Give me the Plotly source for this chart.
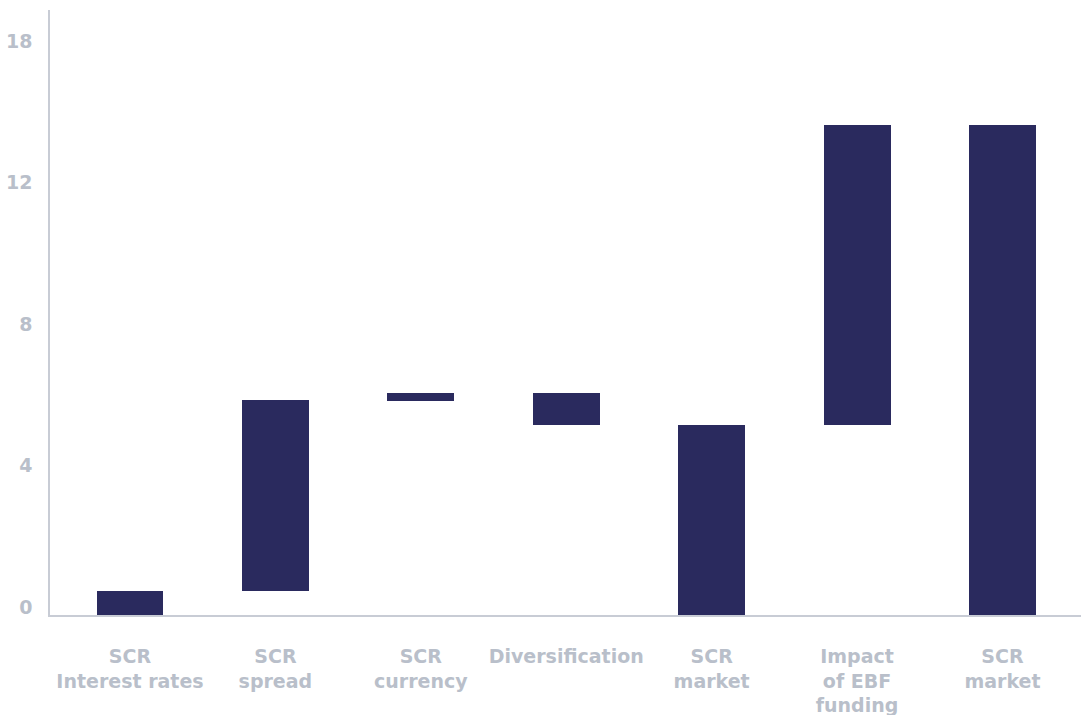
import plotly.graph_objects as go

categories = ["SCR<br>Interest rates", "SCR<br>spread", "SCR<br>currency", "Diversification",
              "SCR<br>market", "Impact<br>of EBF<br>funding", "SCR<br>market"]
bar_low = [0.0, 0.68, 6.06, 5.38, 0.0, 5.38, 0.0]
bar_high = [0.68, 6.07, 6.27, 6.27, 5.38, 13.84, 13.84]
tick_vals = [0, 4, 8, 12, 16]
tick_text = ["0", "4", "8", "12", "18"]

x_pos = list(range(len(categories)))
heights = [h - l for l, h in zip(bar_low, bar_high)]

fig = go.Figure(go.Bar(
    x=x_pos, y=heights, base=bar_low, width=0.46,
    marker=dict(color="#2a2a5e", line=dict(width=0)),
    hoverinfo="skip",
))

xlabel_font = dict(family="DejaVu Sans", size=19, color="#b9bfca", weight=700)
ylabel_font = dict(family="DejaVu Sans", size=19, color="#b9bfca", weight=700)

fig.update_layout(
    width=1081, height=715,
    margin=dict(l=50, r=0, t=10, b=100),
    paper_bgcolor="white", plot_bgcolor="white",
    showlegend=False,
    bargap=0,
    xaxis=dict(
        tickmode="array", tickvals=x_pos, ticktext=categories,
        range=[-0.55, 6.54], showgrid=False, zeroline=False,
        showline=True, linecolor="#c8ccd5", linewidth=2,
        ticks="", tickfont=xlabel_font, ticklabelstandoff=23,
        automargin=False,
    ),
    yaxis=dict(
        tickmode="array", tickvals=tick_vals, ticktext=tick_text,
        range=[0, 17.1], showgrid=False, zeroline=False,
        showline=True, linecolor="#c8ccd5", linewidth=1.5,
        ticks="", tickfont=ylabel_font, ticklabelstandoff=12,
        ticklabelshift=-8, automargin=False,
    ),
)

fig.write_html("out.html")
